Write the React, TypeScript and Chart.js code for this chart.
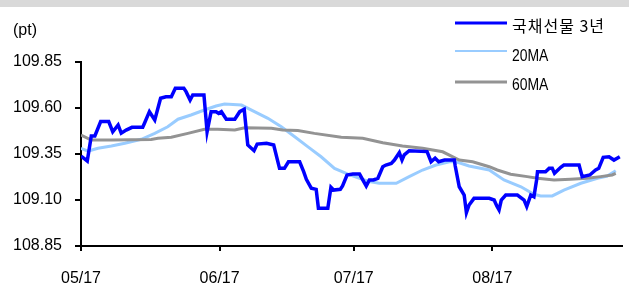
import React, { useEffect, useRef } from "react";
import { Chart, registerables } from "chart.js";

Chart.register(...registerables);

// x values are calendar days counted from 05/17
const xTickDays = [0, 31, 61, 92];
const xTickLabels = ["05/17", "06/17", "07/17", "08/17"];
const yTicks = [108.85, 109.1, 109.35, 109.6, 109.85];

const seriesNames = ["국채선물 3년", "20MA", "60MA"];

const futDays = [0, 1.4, 2.3, 3.1, 4.4, 6.2, 7.1, 8.3, 9.0, 10.1, 11.4, 13.8, 14.2, 15.3, 16.5, 17.8, 19.0, 20.2, 21.1, 23.0, 23.5, 24.4, 25.0, 27.5, 28.2, 29.1, 30.2, 30.8, 31.4, 32.5, 34.4, 35.5, 36.5, 37.3, 38.7, 39.4, 41.5, 43.1, 44.4, 45.5, 46.4, 48.9, 49.8, 50.4, 51.5, 52.6, 53.1, 55.2, 55.9, 56.5, 58.0, 58.5, 59.5, 60.8, 62.3, 63.8, 64.5, 65.4, 66.4, 67.5, 68.2, 69.4, 70.1, 71.2, 71.8, 72.3, 73.4, 77.4, 78.3, 79.2, 80.0, 81.3, 83.5, 83.7, 84.6, 85.7, 86.2, 86.8, 87.9, 91.3, 92.4, 93.0, 93.5, 94.0, 95.0, 97.6, 99.1, 99.7, 100.6, 101.3, 101.9, 102.1, 103.9, 104.7, 105.4, 105.9, 107.3, 108.0, 111.4, 112.1, 113.8, 115.1, 115.8, 116.8, 118.1, 119.2, 120.5];
const futValues = [109.339, 109.312, 109.448, 109.448, 109.526, 109.526, 109.471, 109.508, 109.463, 109.48, 109.495, 109.495, 109.517, 109.58, 109.535, 109.653, 109.661, 109.661, 109.707, 109.707, 109.689, 109.643, 109.671, 109.671, 109.471, 109.58, 109.58, 109.571, 109.58, 109.539, 109.539, 109.58, 109.593, 109.399, 109.368, 109.404, 109.408, 109.399, 109.272, 109.272, 109.308, 109.308, 109.254, 109.212, 109.164, 109.158, 109.055, 109.055, 109.169, 109.154, 109.158, 109.176, 109.236, 109.241, 109.241, 109.176, 109.209, 109.209, 109.218, 109.281, 109.29, 109.299, 109.317, 109.357, 109.317, 109.345, 109.368, 109.363, 109.308, 109.327, 109.308, 109.317, 109.317, 109.285, 109.172, 109.127, 109.031, 109.073, 109.109, 109.109, 109.1, 109.067, 109.046, 109.1, 109.127, 109.127, 109.1, 109.064, 109.127, 109.118, 109.209, 109.254, 109.254, 109.272, 109.272, 109.245, 109.278, 109.29, 109.29, 109.227, 109.236, 109.263, 109.272, 109.332, 109.335, 109.317, 109.335];

const ma20Days = [0, 1.6, 3.8, 6.8, 9.8, 13.5, 16.5, 19.4, 21.7, 24.6, 27.6, 30.2, 32.1, 35.9, 38.8, 41.8, 44.8, 47.8, 50.7, 53.7, 56.7, 59.7, 62.3, 64.5, 66.7, 70.5, 73.4, 76.4, 79.4, 82.4, 83.9, 86.8, 91.3, 94.6, 98.4, 101.3, 102.8, 105.4, 108.0, 111.8, 115.5, 117.7, 119.6];
const ma20Values = [109.381, 109.366, 109.381, 109.393, 109.408, 109.43, 109.462, 109.498, 109.539, 109.562, 109.589, 109.611, 109.622, 109.616, 109.58, 109.544, 109.498, 109.444, 109.39, 109.335, 109.272, 109.241, 109.218, 109.2, 109.191, 109.191, 109.227, 109.263, 109.29, 109.308, 109.308, 109.285, 109.263, 109.209, 109.172, 109.131, 109.122, 109.122, 109.154, 109.191, 109.218, 109.23, 109.259];

const ma60Days = [0, 2.3, 6.8, 15.7, 17.2, 20.2, 23.9, 27.6, 30.6, 34.4, 36.6, 42.6, 45.1, 48.5, 52.2, 58.2, 63.0, 67.5, 71.9, 76.4, 80.9, 84.6, 87.6, 91.3, 93.1, 96.1, 99.8, 102.1, 105.8, 109.5, 113.2, 116.2, 118.8, 119.6];
const ma60Values = [109.453, 109.426, 109.426, 109.429, 109.435, 109.441, 109.462, 109.484, 109.484, 109.48, 109.493, 109.49, 109.48, 109.478, 109.462, 109.441, 109.435, 109.411, 109.393, 109.381, 109.362, 109.317, 109.308, 109.281, 109.263, 109.24, 109.227, 109.218, 109.209, 109.213, 109.218, 109.227, 109.236, 109.245];

const colors = ["#0000ff", "#99ccff", "#939393"];
const FONT = "'Liberation Sans', Arial, 'Noto Sans CJK KR', sans-serif";

const zip = (xs: number[], ys: number[]) => xs.map((x, i) => ({ x, y: ys[i] }));

const overlayPlugin = {
  id: "overlay",
  afterDraw(chart: any) {
    const ctx = chart.ctx as CanvasRenderingContext2D;
    ctx.save();
    ctx.fillStyle = "#000";
    ctx.font = `16px ${FONT}`;
    ctx.textAlign = "left";
    ctx.textBaseline = "middle";
    ctx.fillText("(pt)", 13, 31);

    const lineYs = [23, 51, 82];
    const textYs = [25.5, 56, 85];
    const widths = [3, 2, 3];
    const fonts = [`16px 'Noto Sans CJK KR', ${FONT}`, `17px ${FONT}`, `17px ${FONT}`];
    const squeeze = [1, 0.82, 0.82];
    const spacing = ["1px", "0px", "0px"];
    seriesNames.forEach((name, i) => {
      ctx.strokeStyle = colors[i];
      ctx.lineWidth = widths[i];
      ctx.beginPath();
      ctx.moveTo(455, lineYs[i]);
      ctx.lineTo(507, lineYs[i]);
      ctx.stroke();
      ctx.save();
      ctx.fillStyle = "#000";
      ctx.font = fonts[i];
      (ctx as any).letterSpacing = spacing[i];
      ctx.translate(512, textYs[i]);
      ctx.scale(squeeze[i], 1);
      ctx.fillText(name, 0, 0);
      ctx.restore();
    });
    ctx.restore();
  },
};

export default function App() {
  const ref = useRef<HTMLCanvasElement>(null);

  useEffect(() => {
    const canvas = ref.current!;
    const chart = new Chart(canvas, {
      type: "line",
      data: {
        datasets: [
          { label: seriesNames[0], data: zip(futDays, futValues), borderColor: colors[0], borderWidth: 3.5, order: 0 },
          { label: seriesNames[1], data: zip(ma20Days, ma20Values), borderColor: colors[1], borderWidth: 3, order: 2 },
          { label: seriesNames[2], data: zip(ma60Days, ma60Values), borderColor: colors[2], borderWidth: 3, order: 1 },
        ],
      },
      options: {
        animation: false,
        responsive: false,
        devicePixelRatio: 1,
        elements: { point: { radius: 0 }, line: { tension: 0, fill: false } },
        layout: { padding: { top: 62, right: 7, left: 0, bottom: 0 } },
        plugins: { legend: { display: false }, tooltip: { enabled: false } },
        scales: {
          x: {
            type: "linear",
            min: 0,
            max: 121,
            afterBuildTicks: (scale: any) => {
              scale.ticks = xTickDays.map((v) => ({ value: v }));
            },
            afterFit: (scale: any) => {
              scale.height = 45;
            },
            ticks: {
              autoSkip: false,
              maxRotation: 0,
              padding: 18,
              color: "#000",
              font: { family: FONT, size: 16 },
              callback: (v: any) => {
                const i = xTickDays.indexOf(Number(v));
                return i >= 0 ? xTickLabels[i] : "";
              },
            },
            grid: { display: true, drawOnChartArea: false, drawTicks: true, tickLength: 5, color: "#000", lineWidth: 2 },
            border: { display: true, color: "#000", width: 2 },
          },
          y: {
            type: "linear",
            min: 108.85,
            max: 109.85,
            afterBuildTicks: (scale: any) => {
              scale.ticks = yTicks.map((v) => ({ value: v }));
            },
            afterFit: (scale: any) => {
              scale.width = 81;
            },
            ticks: {
              padding: 13,
              color: "#000",
              font: { family: FONT, size: 16 },
              callback: (v: any) => Number(v).toFixed(2),
            },
            grid: { display: true, drawOnChartArea: false, drawTicks: true, tickLength: 6, color: "#000", lineWidth: 2 },
            border: { display: true, color: "#000", width: 2 },
          },
        },
      },
      plugins: [overlayPlugin],
    });
    return () => chart.destroy();
  }, []);

  return (
    <div style={{ position: "absolute", left: 0, top: 0, width: 629, height: 291, background: "#fff", overflow: "hidden" }}>
      <div style={{ position: "absolute", left: 0, top: 0, width: 629, height: 7, background: "#d9d9d9" }} />
      <canvas ref={ref} width={629} height={291} style={{ position: "absolute", left: 0, top: 0, display: "block" }} />
    </div>
  );
}
